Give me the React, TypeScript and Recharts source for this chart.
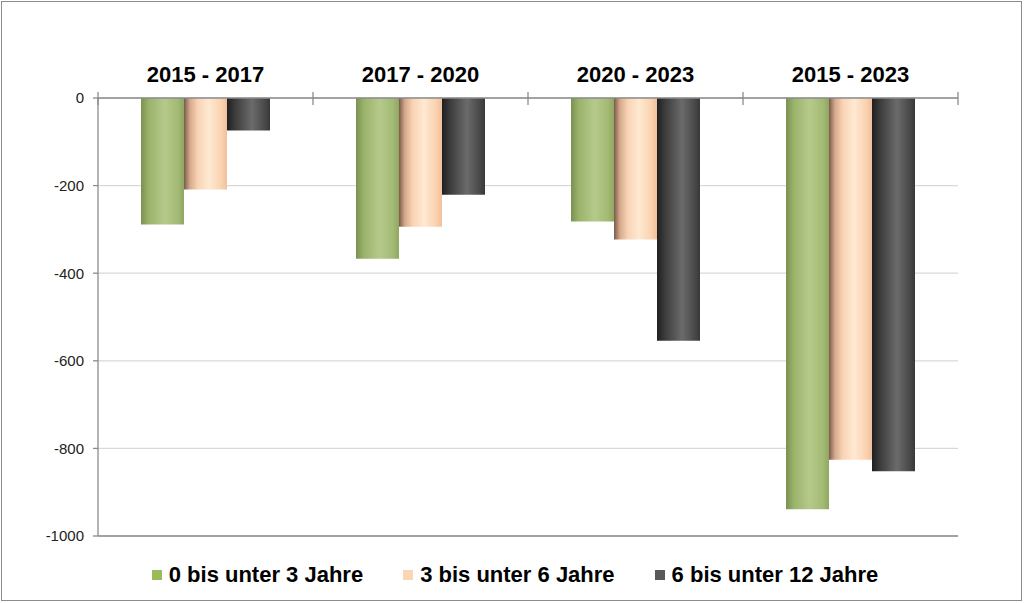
import React from "react";
import {
  BarChart,
  Bar,
  XAxis,
  YAxis,
  CartesianGrid,
  ReferenceLine,
} from "recharts";

const periods = ["2015 - 2017", "2017 - 2020", "2020 - 2023", "2015 - 2023"];
const age0to3 = [-289, -367, -282, -939];
const age3to6 = [-209, -294, -323, -826];
const age6to12 = [-74, -221, -554, -852];
const yTicks = [0, -200, -400, -600, -800, -1000];

const seriesNames = ["0 bis unter 3 Jahre", "3 bis unter 6 Jahre", "6 bis unter 12 Jahre"];
const seriesKeys = ["a", "b", "c"];
const legendColors = ["#9bbb59", "#fcd5b5", "#595959"];

const data = periods.map((p, i) => ({
  period: p,
  a: age0to3[i],
  b: age3to6[i],
  c: age6to12[i],
}));

const FONT = "'Liberation Sans', Arial, sans-serif";
const PLOT_LEFT = 98;
const PLOT_RIGHT = 958;
const BAND = (PLOT_RIGHT - PLOT_LEFT) / periods.length;

function PeriodTick(props: any) {
  const { x, y, payload, index } = props;
  const left = x - BAND / 2;
  const right = x + BAND / 2;
  return (
    <g>
      <text
        x={x}
        y={y - 16}
        textAnchor="middle"
        fontFamily={FONT}
        fontWeight="bold"
        fontSize={22}
        fill="#000"
      >
        {payload.value}
      </text>
      <line x1={left} x2={left} y1={y - 6} y2={y + 7} stroke="#8c8c8c" strokeWidth={1.3} />
      {index === periods.length - 1 && (
        <line x1={right} x2={right} y1={y - 6} y2={y + 7} stroke="#8c8c8c" strokeWidth={1.3} />
      )}
    </g>
  );
}

export default function App() {
  return (
    <div
      style={{
        position: "absolute",
        left: 0,
        top: 0,
        width: 1024,
        height: 603,
        background: "#fff",
        fontFamily: FONT,
      }}
    >
      <div
        style={{
          position: "absolute",
          left: 1,
          top: 1,
          width: 1019,
          height: 598,
          border: "1px solid #8c8c8c",
        }}
      />
      <div style={{ position: "absolute", left: 0, top: 0 }}>
        <BarChart
          width={1024}
          height={603}
          data={data}
          margin={{ top: 58, right: 1024 - PLOT_RIGHT, bottom: 67, left: 38 }}
          barCategoryGap="20%"
          barGap={0}
        >
          <defs>
            <linearGradient id="gGreen" x1="0" y1="0" x2="1" y2="0">
              <stop offset="0%" stopColor="#7b9150" />
              <stop offset="18%" stopColor="#9ab36a" />
              <stop offset="55%" stopColor="#b6c98c" />
              <stop offset="85%" stopColor="#a3bb74" />
              <stop offset="100%" stopColor="#8fa762" />
            </linearGradient>
            <linearGradient id="gPeach" x1="0" y1="0" x2="1" y2="0">
              <stop offset="0%" stopColor="#7a5a4c" />
              <stop offset="14%" stopColor="#d6aa8c" />
              <stop offset="32%" stopColor="#f8d3b4" />
              <stop offset="58%" stopColor="#fee9d2" />
              <stop offset="86%" stopColor="#fad3b1" />
              <stop offset="100%" stopColor="#f0c19b" />
            </linearGradient>
            <linearGradient id="gDark" x1="0" y1="0" x2="1" y2="0">
              <stop offset="0%" stopColor="#1f1f1f" />
              <stop offset="18%" stopColor="#3b3b3b" />
              <stop offset="58%" stopColor="#6b6b6b" />
              <stop offset="86%" stopColor="#4b4b4b" />
              <stop offset="100%" stopColor="#383838" />
            </linearGradient>
          </defs>
          <CartesianGrid vertical={false} stroke="#d9d9d9" strokeWidth={1.3} />
          <XAxis
            dataKey="period"
            orientation="top"
            height={40}
            tickSize={0}
            tickMargin={0}
            tickLine={false}
            axisLine={{ stroke: "#8c8c8c", strokeWidth: 1.3 }}
            tick={<PeriodTick />}
            interval={0}
          />
          <YAxis
            width={60}
            domain={[-1000, 0]}
            ticks={yTicks}
            interval={0}
            tickSize={5}
            tickMargin={9}
            tickLine={{ stroke: "#8c8c8c", strokeWidth: 1.3 }}
            axisLine={{ stroke: "#8c8c8c", strokeWidth: 1.3 }}
            tick={{ fill: "#222", fontSize: 15, fontFamily: FONT }}
          />
          <ReferenceLine y={-1000} stroke="#8c8c8c" strokeWidth={1.6} />
          <Bar dataKey="a" name={seriesNames[0]} fill="url(#gGreen)" isAnimationActive={false} />
          <Bar dataKey="b" name={seriesNames[1]} fill="url(#gPeach)" isAnimationActive={false} />
          <Bar dataKey="c" name={seriesNames[2]} fill="url(#gDark)" isAnimationActive={false} />
        </BarChart>
      </div>
      <div
        style={{
          position: "absolute",
          left: 0,
          top: 562,
          width: 1030,
          display: "flex",
          justifyContent: "center",
          alignItems: "center",
          gap: 40,
        }}
      >
        {seriesKeys.map((k, i) => (
          <div key={k} style={{ display: "flex", alignItems: "center" }}>
            <span
              style={{
                display: "inline-block",
                width: 10,
                height: 10,
                background: legendColors[i],
                marginRight: 7,
              }}
            />
            <span style={{ fontWeight: "bold", fontSize: 22, color: "#000", lineHeight: "26px" }}>
              {seriesNames[i]}
            </span>
          </div>
        ))}
      </div>
    </div>
  );
}
